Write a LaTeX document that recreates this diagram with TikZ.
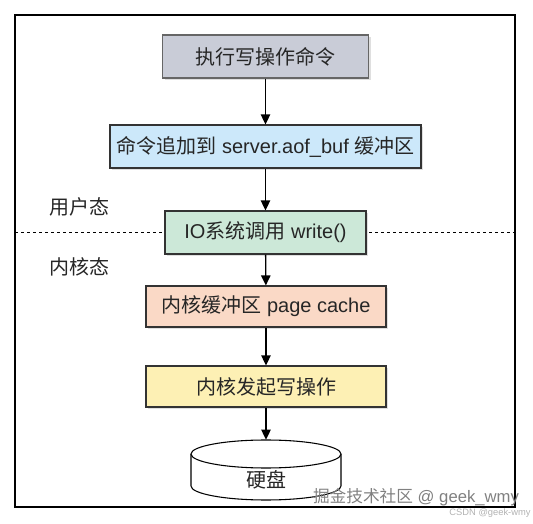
\documentclass[tikz,border=0pt]{standalone}
\usepackage{fontspec}
\setmainfont{Liberation Sans}
\newfontfamily\cjk{Noto Sans CJK SC}
\usepackage{tikz}
\usetikzlibrary{shadows,arrows.meta}

\definecolor{cmdgray}{HTML}{C9CCD7}
\definecolor{bufblue}{HTML}{CCE8FA}
\definecolor{iogreen}{HTML}{CCE8D8}
\definecolor{cachepeach}{HTML}{FAD9C6}
\definecolor{kernyellow}{HTML}{FDF0B4}
\definecolor{txtdark}{HTML}{262626}

\tikzset{
  stepbox/.style={draw=black!80, line width=0.8pt, inner sep=0pt, text=txtdark,
    font=\fontsize{15}{18}\selectfont,
    drop shadow={shadow xshift=1.5pt, shadow yshift=-1.5pt, opacity=0.25}},
  flow/.style={-{Triangle[length=7.5pt,width=7pt]}, line width=1pt, black},
  modelabel/.style={font=\cjk\fontsize{15}{18}\selectfont, text=txtdark}
}

\begin{document}
\begin{tikzpicture}[x=0.75pt,y=-0.75pt]
\useasboundingbox (0,0) rectangle (533,524);
\draw[line width=0.9pt] (15,15) rectangle (515,507);

% user space / kernel space border
\draw[dashed, dash pattern=on 2.5pt off 2pt, line width=0.6pt] (15,232) -- (515,232);
\node[modelabel] (user) at (80,207) {用户态};
\node[modelabel] (kernel) at (80,267) {内核态};

\node[stepbox, fill=cmdgray, draw=black!60, minimum width=154.5pt, minimum height=32.25pt] (cmd) at (265.5,56.5) {\cjk 执行写操作命令};
\node[stepbox, fill=bufblue, minimum width=233.25pt, minimum height=32.25pt] (buf) at (265.5,146.5) {{\cjk 命令追加到} server.aof\_buf {\cjk 缓冲区}};
\node[stepbox, fill=iogreen, minimum width=150.75pt, minimum height=32.25pt] (io) at (265.5,232.5) {IO{\cjk 系统调用} write()};
\node[stepbox, fill=cachepeach, minimum width=180pt, minimum height=30.75pt] (cache) at (266,306.5) {{\cjk 内核缓冲区} page cache};
\node[stepbox, fill=kernyellow, minimum width=180pt, minimum height=30.75pt] (flush) at (266,386.5) {\cjk 内核发起写操作};

% disk
\node[inner sep=0pt, minimum width=112.5pt, minimum height=45pt] (disk) at (266,470) {};
\draw[line width=0.8pt, fill=white] (191,454) -- (191,486) arc[start angle=180, end angle=360, x radius=56.25pt, y radius=10.5pt] -- (341,454);
\draw[line width=0.8pt, fill=white] (266,454) ellipse[x radius=56.25pt, y radius=10.5pt];
\node[modelabel] (disktxt) at (266,480) {硬盘};

\draw[flow] (cmd) -- (buf);
\draw[flow] (buf) -- (io);
\draw[flow] (io) -- (cache);
\draw[flow] (cache) -- (flush);
\draw[flow] (flush) -- (disk.north);

% watermarks
\node[font=\fontsize{12.5}{15}\selectfont, text=black!50] (wm) at (416,497) {{\cjk 掘金技术社区} @ geek\_wmy};
\node[font=\fontsize{7}{8}\selectfont, text=black!30] (csdn) at (490,513) {CSDN @geek-wmy};
\end{tikzpicture}
\end{document}
